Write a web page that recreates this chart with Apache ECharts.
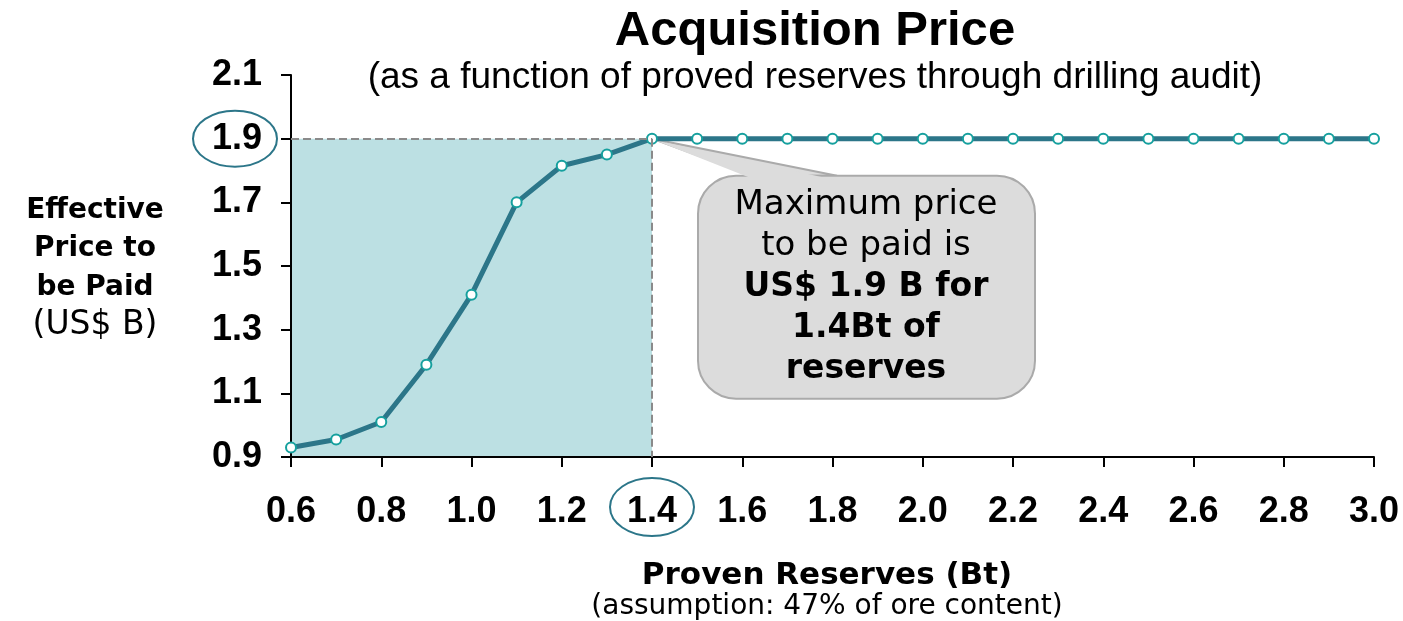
<!DOCTYPE html>
<html lang="en">
<head>
<meta charset="UTF-8">
<title>Acquisition Price</title>
<script src="https://cdn.jsdelivr.net/npm/echarts@6/dist/echarts.min.js"></script>
</head>
<body style="margin:0;background:#fff">
<div id="main" style="width:1403px;height:621px;"></div>
<script>
// proven reserves (Bt) and effective price (US$ B)
const reserves = [0.6, 0.7, 0.8, 0.9, 1.0, 1.1, 1.2, 1.3, 1.4, 1.5, 1.6, 1.7, 1.8,
    1.9, 2.0, 2.1, 2.2, 2.3, 2.4, 2.5, 2.6, 2.7, 2.8, 2.9, 3.0];
const price = [0.93, 0.955, 1.01, 1.19, 1.41, 1.70, 1.815, 1.85, 1.90, 1.90, 1.90, 1.90, 1.90,
    1.90, 1.90, 1.90, 1.90, 1.90, 1.90, 1.90, 1.90, 1.90, 1.90, 1.90, 1.90];
const xTicks = [0.6, 0.8, 1.0, 1.2, 1.4, 1.6, 1.8, 2.0, 2.2, 2.4, 2.6, 2.8, 3.0];
const yTicks = [0.9, 1.1, 1.3, 1.5, 1.7, 1.9, 2.1];

const calloutLines = ['Maximum price', 'to be paid is', 'US$ 1.9 B for', '1.4Bt of', 'reserves'];

// first point where the max price is reached
const maxPrice = Math.max.apply(null, price);
const peakIdx = price.indexOf(maxPrice);
const peakX = reserves[peakIdx];

const teal = '#2c7689';
const labelFont = 'Liberation Sans';
const textFont = 'DejaVu Sans';

const chart = echarts.init(document.getElementById('main'));

const axisCommon = {
    type: 'value',
    z: 1,
    axisLine: { show: true, lineStyle: { color: '#000', width: 2 } },
    axisTick: { show: true, length: 10, lineStyle: { color: '#000', width: 2 } },
    splitLine: { show: false },
    axisLabel: {
        color: '#000', fontFamily: labelFont, fontWeight: 'bold', fontSize: 36,
        formatter: function (v) { return v.toFixed(1); }
    }
};

const option = {
    animation: false,
    grid: { left: 291, right: 29, top: 75, bottom: 164 },
    xAxis: Object.assign({}, axisCommon, {
        min: xTicks[0], max: xTicks[xTicks.length - 1], interval: 0.2,
        axisLabel: Object.assign({}, axisCommon.axisLabel, { margin: 37 })
    }),
    yAxis: Object.assign({}, axisCommon, {
        min: yTicks[0], max: yTicks[yTicks.length - 1], interval: 0.2,
        axisLabel: Object.assign({}, axisCommon.axisLabel, { margin: 29 })
    }),
    series: [{
        // shaded area up to the max price point
        type: 'line',
        z: 0,
        data: [],
        markArea: {
            silent: true,
            itemStyle: { color: '#bce0e3' },
            data: [[{ coord: [reserves[0], yTicks[0]] }, { coord: [peakX, maxPrice] }]]
        }
    }, {
        type: 'line',
        z: 3,
        data: reserves.map(function (x, i) { return [x, price[i]]; }),
        lineStyle: { color: teal, width: 5 },
        symbol: 'circle',
        symbolSize: 10,
        itemStyle: { color: '#fff', borderColor: '#16a09e', borderWidth: 2 },
        markLine: {
            silent: true,
            symbol: 'none',
            label: { show: false },
            lineStyle: { color: '#8a8a8a', type: 'dashed', width: 2 },
            data: [
                [{ coord: [reserves[0], maxPrice] }, { coord: [peakX, maxPrice] }],
                [{ coord: [peakX, maxPrice] }, { coord: [peakX, yTicks[0]] }]
            ]
        }
    }]
};
chart.setOption(option);

// annotations placed from the axes' own scale
const tip = chart.convertToPixel({ gridIndex: 0 }, [peakX, maxPrice]);
const base = chart.convertToPixel({ gridIndex: 0 }, [reserves[0], yTicks[0]]);

chart.setOption({
    graphic: [
        {
            type: 'text', x: 815, y: 31,
            style: { text: 'Acquisition Price', fontFamily: labelFont, fontWeight: 'bold', fontSize: 49,
                fill: '#000', align: 'center', verticalAlign: 'middle' }
        },
        {
            type: 'text', x: 815, y: 78,
            style: { text: '(as a function of proved reserves through drilling audit)', fontFamily: labelFont,
                fontSize: 37, fill: '#000', align: 'center', verticalAlign: 'middle' }
        },
        {
            type: 'text', x: 95, y: 268,
            style: {
                text: '{b|Effective}\n{b|Price to}\n{b|be Paid}\n{r|(US$ B)}',
                align: 'center', verticalAlign: 'middle',
                rich: {
                    b: { fontFamily: textFont, fontWeight: 'bold', fontSize: 28, lineHeight: 38.5, fill: '#000', align: 'center' },
                    r: { fontFamily: textFont, fontSize: 33, lineHeight: 38.5, fill: '#000', align: 'center' }
                }
            }
        },
        {
            type: 'text', x: 827, y: 576,
            style: { text: 'Proven Reserves (Bt)', fontFamily: textFont, fontWeight: 'bold', fontSize: 31,
                fill: '#000', align: 'center', verticalAlign: 'middle' }
        },
        {
            type: 'text', x: 827, y: 607,
            style: { text: '(assumption: 47% of ore content)', fontFamily: textFont, fontSize: 28,
                fill: '#000', align: 'center', verticalAlign: 'middle' }
        },
        // circles round the 1.9 and 1.4 tick labels
        {
            type: 'ellipse', z: 10,
            shape: { cx: base[0] - 56, cy: tip[1], rx: 42, ry: 28 },
            style: { fill: 'none', stroke: teal, lineWidth: 2 }
        },
        {
            type: 'ellipse', z: 10,
            shape: { cx: tip[0], cy: base[1] + 50, rx: 42, ry: 29 },
            style: { fill: 'none', stroke: teal, lineWidth: 2 }
        },
        // callout bubble
        {
            type: 'group', x: tip[0], y: tip[1], z: 10,
            children: [
                {
                    type: 'polygon', shape: { points: [[0, 0], [101, 37], [185, 37]] },
                    style: { fill: '#dcdcdc', stroke: '#aaaaaa', lineWidth: 2 }
                },
                {
                    type: 'rect', shape: { x: 46, y: 37, width: 337, height: 223, r: 38 },
                    style: { fill: '#dcdcdc', stroke: '#aaaaaa', lineWidth: 2 }
                },
                {
                    type: 'polygon', shape: { points: [[3, 1.5], [103, 41], [182, 41]] },
                    style: { fill: '#dcdcdc' }
                },
                {
                    type: 'text', x: 214, y: 149,
                    style: {
                        text: '{r|' + calloutLines[0] + '}\n{r|' + calloutLines[1] + '}\n{b|' + calloutLines[2] +
                            '}\n{b|' + calloutLines[3] + '}\n{b|' + calloutLines[4] + '}',
                        align: 'center', verticalAlign: 'middle',
                        rich: {
                            r: { fontFamily: textFont, fontSize: 34, lineHeight: 41, fill: '#000', align: 'center' },
                            b: { fontFamily: textFont, fontWeight: 'bold', fontSize: 33, lineHeight: 41, fill: '#000', align: 'center' }
                        }
                    }
                }
            ]
        }
    ]
});
</script>
</body>
</html>
